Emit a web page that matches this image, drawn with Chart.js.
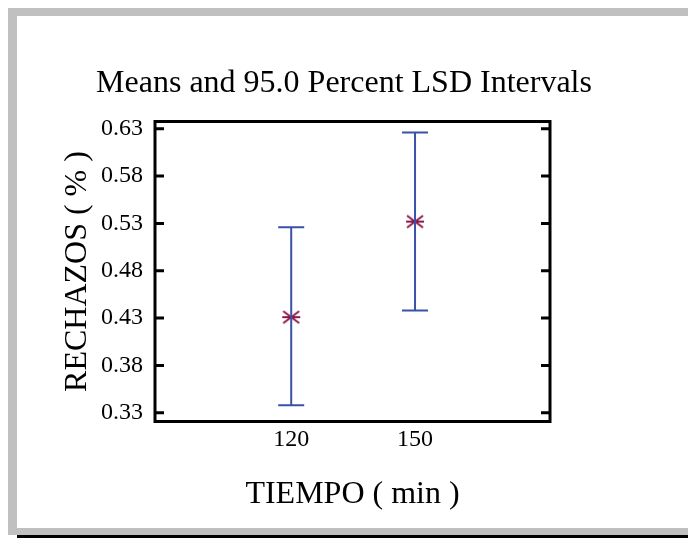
<!DOCTYPE html>
<html>
<head>
<meta charset="utf-8">
<title>Means and 95.0 Percent LSD Intervals</title>
<script src="https://cdn.jsdelivr.net/npm/chart.js@4.4.1/dist/chart.umd.min.js"></script>
<style>
  body { margin: 0; background: #ffffff; }
  #myChart { display: block; }
</style>
</head>
<body>
<canvas id="myChart" width="688" height="538"></canvas>
<script>
// data
var categories = ['120', '150'];
var positions = [1, 2];
var means = [0.431, 0.532];
var lower = [0.338, 0.438];
var upper = [0.526, 0.626];
var yTicks = [0.33, 0.38, 0.43, 0.48, 0.53, 0.58, 0.63];

var serif = "'Liberation Serif', 'Times New Roman', serif";

// asterisk marker used by statgraphics
function makeStar() {
    var c = document.createElement('canvas');
    c.width = 22; c.height = 16;
    var g = c.getContext('2d');
    g.strokeStyle = '#8b1a4a';
    g.lineWidth = 2;
    g.beginPath();
    g.moveTo(2, 8); g.lineTo(20, 8);
    g.moveTo(3, 2); g.lineTo(19, 14);
    g.moveTo(3, 14); g.lineTo(19, 2);
    g.stroke();
    return c;
}

var framePlugin = {
    id: 'frame',
    beforeDraw: function (chart) {
        var ctx = chart.ctx;
        ctx.save();
        ctx.fillStyle = '#ffffff';
        ctx.fillRect(0, 0, chart.width, chart.height);
        ctx.fillStyle = '#c0c0c0';
        ctx.fillRect(8, 8, 680, 8);
        ctx.fillRect(8, 8, 9, 527);
        ctx.fillRect(8, 528, 680, 7);
        ctx.fillStyle = '#000000';
        ctx.fillRect(17, 535, 671, 3);
        ctx.restore();
    },
    afterDatasetsDraw: function (chart) {
        var ctx = chart.ctx;
        var xs = chart.scales.x, ys = chart.scales.y;
        var a = chart.chartArea;
        ctx.save();
        // error bars
        ctx.strokeStyle = '#3a51aa';
        ctx.lineWidth = 2;
        for (var i = 0; i < positions.length; i++) {
            var px = xs.getPixelForValue(positions[i]);
            var pl = ys.getPixelForValue(lower[i]);
            var pu = ys.getPixelForValue(upper[i]);
            ctx.beginPath();
            ctx.moveTo(px, pl); ctx.lineTo(px, pu);
            ctx.moveTo(px - 13, pl); ctx.lineTo(px + 13, pl);
            ctx.moveTo(px - 13, pu); ctx.lineTo(px + 13, pu);
            ctx.stroke();
        }
        // box and inward ticks
        ctx.strokeStyle = '#000000';
        ctx.lineWidth = 3;
        ctx.strokeRect(a.left, a.top, a.right - a.left, a.bottom - a.top);
        ctx.beginPath();
        yTicks.forEach(function (v) {
            var py = ys.getPixelForValue(v);
            ctx.moveTo(a.left, py); ctx.lineTo(a.left + 9, py);
            ctx.moveTo(a.right - 9, py); ctx.lineTo(a.right, py);
        });
        ctx.stroke();
        ctx.restore();
    }
};

var chart = new Chart(document.getElementById('myChart').getContext('2d'), {
    type: 'scatter',
    data: {
        datasets: [{
            label: 'Means',
            data: positions.map(function (p, i) { return {x: p, y: means[i]}; }),
            pointStyle: makeStar(),
            pointRadius: 8,
            pointHoverRadius: 8
        }]
    },
    options: {
        responsive: false,
        animation: false,
        devicePixelRatio: 1,
        layout: {padding: 0},
        plugins: {
            legend: {display: false},
            tooltip: {enabled: false},
            title: {
                display: true,
                text: 'Means and 95.0 Percent LSD Intervals',
                color: '#000000',
                font: {family: serif, size: 32, weight: 'normal', lineHeight: 1.2},
                padding: {top: 64, bottom: 19.1}
            }
        },
        scales: {
            x: {
                type: 'linear',
                min: -0.1,
                max: 3.09,
                grid: {display: false, drawTicks: false},
                border: {display: false},
                afterBuildTicks: function (scale) {
                    scale.ticks = positions.map(function (p) { return {value: p}; });
                },
                afterFit: function (scale) { scale.height = 116.5; },
                ticks: {
                    color: '#000000',
                    padding: 4,
                    maxRotation: 0,
                    font: {family: serif, size: 24},
                    callback: function (v) { return categories[positions.indexOf(v)]; }
                },
                title: {
                    display: true,
                    text: 'TIEMPO ( min )',
                    color: '#000000',
                    font: {family: serif, size: 32, lineHeight: 1.2},
                    padding: {top: 0, bottom: 24}
                }
            },
            y: {
                min: 0.3208,
                max: 0.6377,
                grid: {display: false, drawTicks: false},
                border: {display: false},
                afterBuildTicks: function (scale) {
                    scale.ticks = yTicks.map(function (v) { return {value: v}; });
                },
                afterFit: function (scale) { scale.width = 155; },
                ticks: {
                    color: '#000000',
                    padding: 12,
                    font: {family: serif, size: 24},
                    callback: function (v) { return v.toFixed(2); }
                },
                title: {
                    display: true,
                    text: 'RECHAZOS ( % )',
                    color: '#000000',
                    font: {family: serif, size: 32, lineHeight: 1.2},
                    padding: {top: 58.8, bottom: 0}
                }
            },
            y2: {
                position: 'right',
                min: 0.3208,
                max: 0.6377,
                grid: {display: false, drawTicks: false},
                border: {display: false},
                ticks: {display: false},
                afterFit: function (scale) { scale.width = 138; }
            }
        }
    },
    plugins: [framePlugin]
});
</script>
</body>
</html>
